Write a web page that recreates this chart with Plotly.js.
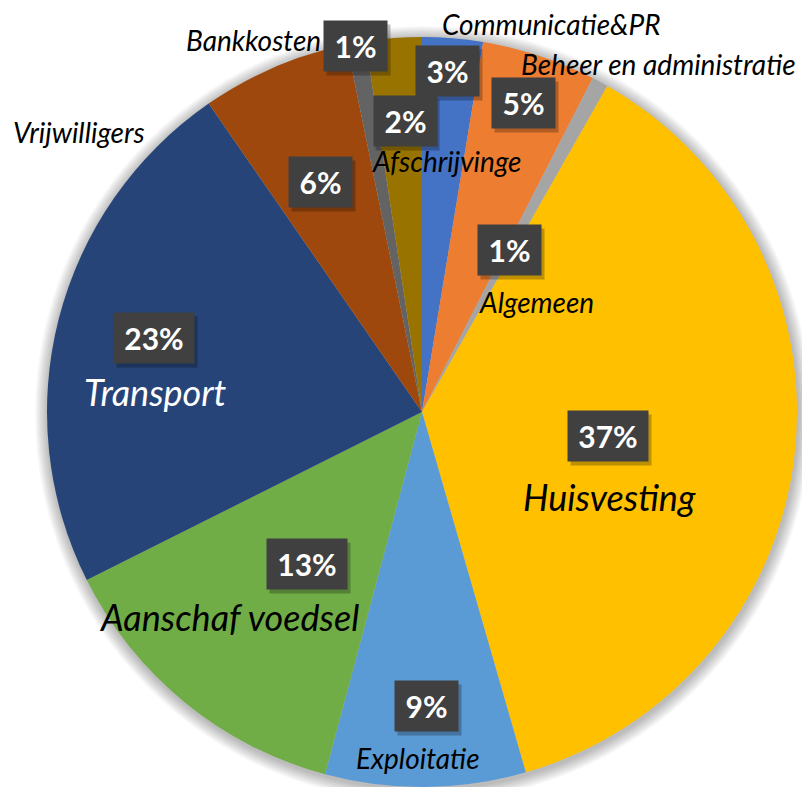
<!DOCTYPE html>
<html>
<head>
<meta charset="utf-8">
<script src="https://cdn.plot.ly/plotly-3.0.1.min.js"></script>
<style>html,body{margin:0;padding:0;background:#fff;}#chart{width:802px;height:787px;}</style>
</head>
<body>
<div id="chart"></div>
<script>
// ---- data ----
const categories = ['Communicatie&PR','Beheer en administratie','Algemeen','Huisvesting','Exploitatie','Aanschaf voedsel','Transport','Vrijwilligers','Bankkosten','Afschrijvinge'];
const values = [2.6, 4.9, 0.7, 37.2, 8.6, 13.4, 22.7, 6.4, 0.8, 2.4];
const colors = ['#4472C4','#ED7D31','#A5A5A5','#FFC000','#5B9BD5','#70AD47','#264478','#9E480E','#636363','#997300'];

// ---- layout helpers (label placement in pixels) ----
const W = 802, H = 787;
const CX = 422, CY = 412, R = 375;
const namePos = [[551,24],[658,64],[536,302],[609,497],[418,758],[229,617],[155,392],[79,132],[254,40],[447,161]];
const boxPos  = [[447,71],[523,103],[509,250],[608,436],[426,706],[307,564],[154,338],[320,182],[355,46],[405,121]];
const bigNames = ['Huisvesting','Aanschaf voedsel','Transport'];
const whiteNames = ['Transport'];

const total = values.reduce((a,b)=>a+b,0);
const px = (x)=>x/W, py = (y)=>1-y/H;

const annotations = [];
categories.forEach((c,i)=>{
  const big = bigNames.includes(c);
  annotations.push({
    xref:'paper', yref:'paper', x:px(namePos[i][0]), y:py(namePos[i][1]),
    xanchor:'center', yanchor:'middle', showarrow:false,
    text:'<i>'+c+'</i>',
    font:{family:'Lato, "Open Sans", sans-serif', size: big?36:28, color: whiteNames.includes(c)?'#ffffff':'#000000'}
  });
});
categories.forEach((c,i)=>{
  const pct = Math.round(values[i]/total*100)+'%';
  const w = pct.length>2 ? 80 : 63;
  // shadow
  annotations.push({
    xref:'paper', yref:'paper', x:px(boxPos[i][0]+3), y:py(boxPos[i][1]+4),
    xanchor:'center', yanchor:'middle', showarrow:false,
    text:' ', width:w, height:50, bgcolor:'rgba(0,0,0,0.25)', borderpad:0,
    font:{size:10}
  });
  annotations.push({
    xref:'paper', yref:'paper', x:px(boxPos[i][0]), y:py(boxPos[i][1]),
    xanchor:'center', yanchor:'middle', showarrow:false,
    text:'<b>'+pct+'</b>', width:w, height:50, bgcolor:'#404040', borderpad:0,
    font:{family:'Lato, "Open Sans", sans-serif', size:30, color:'#ffffff'}
  });
});

// soft shadow around pie
const shapes = [];
for (let k=1;k<=8;k++){
  const r = R + k*1.6;
  shapes.push({type:'circle', xref:'paper', yref:'paper', layer:'below',
    x0:px(CX-r+1), x1:px(CX+r+1), y0:py(CY+r+2), y1:py(CY-r+2),
    fillcolor:'rgba(0,0,0,0.035)', line:{width:0}});
}

const trace = {
  type:'pie', labels:categories, values:values, sort:false, direction:'clockwise', rotation:0,
  marker:{colors:colors, line:{width:0}}, textinfo:'none', hoverinfo:'label+percent',
  domain:{x:[px(CX-R), px(CX+R)], y:[py(CY+R), py(CY-R)]}, showlegend:false
};

Plotly.newPlot('chart',[trace],{
  width:W, height:H, margin:{l:0,r:0,t:0,b:0}, paper_bgcolor:'#ffffff',
  showlegend:false, annotations:annotations, shapes:shapes
},{staticPlot:true});
</script>
</body>
</html>
